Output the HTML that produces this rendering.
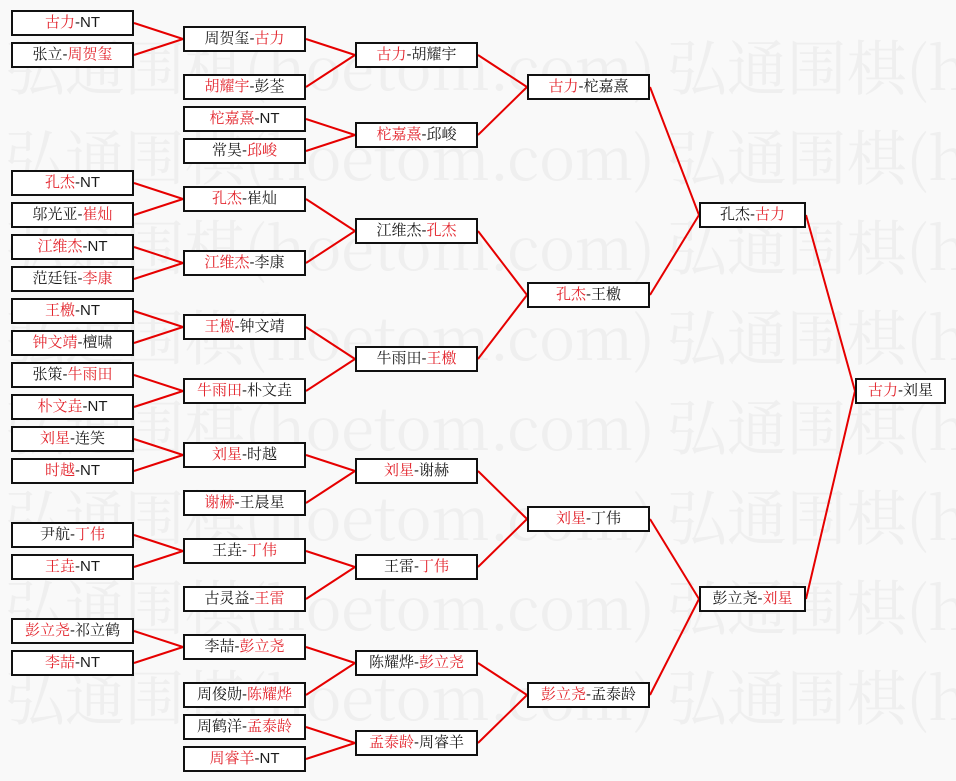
<!DOCTYPE html>
<html>
<head>
<meta charset="utf-8">
<style>
html{margin:0;padding:0;width:956px;height:781px;overflow:hidden;}
body{margin:0;padding:0;width:956px;height:781px;position:relative;overflow:hidden;background:#f9f9f9;
font-family:"Liberation Sans","Noto Serif CJK SC",serif;}
svg{position:absolute;left:0;top:0;display:block;}
.b{position:absolute;box-sizing:border-box;height:26px;border:2px solid #111;background:#fff;
text-align:center;line-height:22px;font-size:15px;color:#1a1a1a;white-space:nowrap;overflow:hidden;
font-family:"Liberation Sans","Noto Serif CJK SC",serif;}
.r{color:#e3262e;}
.c1{left:11px;width:123px;}
.c2{left:183px;width:123px;}
.c3{left:355px;width:123px;}
.c4{left:527px;width:123px;}
.c5{left:699px;width:107px;}
.c6{left:855px;width:91px;}
</style>
</head>
<body>
<svg width="956" height="781" viewBox="0 0 956 781" overflow="hidden">
<g fill="#efefef" font-family="Noto Serif CJK SC, serif" font-size="60">
<text x="5" y="90" textLength="650" lengthAdjust="spacing">弘通围棋(hoetom.com)</text><text x="667" y="90" textLength="650" lengthAdjust="spacing">弘通围棋(hoetom.com)</text>
<text x="5" y="180" textLength="650" lengthAdjust="spacing">弘通围棋(hoetom.com)</text><text x="667" y="180" textLength="650" lengthAdjust="spacing">弘通围棋(hoetom.com)</text>
<text x="5" y="270" textLength="650" lengthAdjust="spacing">弘通围棋(hoetom.com)</text><text x="667" y="270" textLength="650" lengthAdjust="spacing">弘通围棋(hoetom.com)</text>
<text x="5" y="360" textLength="650" lengthAdjust="spacing">弘通围棋(hoetom.com)</text><text x="667" y="360" textLength="650" lengthAdjust="spacing">弘通围棋(hoetom.com)</text>
<text x="5" y="450" textLength="650" lengthAdjust="spacing">弘通围棋(hoetom.com)</text><text x="667" y="450" textLength="650" lengthAdjust="spacing">弘通围棋(hoetom.com)</text>
<text x="5" y="540" textLength="650" lengthAdjust="spacing">弘通围棋(hoetom.com)</text><text x="667" y="540" textLength="650" lengthAdjust="spacing">弘通围棋(hoetom.com)</text>
<text x="5" y="630" textLength="650" lengthAdjust="spacing">弘通围棋(hoetom.com)</text><text x="667" y="630" textLength="650" lengthAdjust="spacing">弘通围棋(hoetom.com)</text>
<text x="5" y="720" textLength="650" lengthAdjust="spacing">弘通围棋(hoetom.com)</text><text x="667" y="720" textLength="650" lengthAdjust="spacing">弘通围棋(hoetom.com)</text>
</g>
<g stroke="#e60000" stroke-width="2" fill="none">
<path d="M134 23L183 39M134 55L183 39
M134 183L183 199M134 215L183 199
M134 247L183 263M134 279L183 263
M134 311L183 327M134 343L183 327
M134 375L183 391M134 407L183 391
M134 439L183 455M134 471L183 455
M134 535L183 551M134 567L183 551
M134 631L183 647M134 663L183 647
M306 39L355 55M306 87L355 55
M306 119L355 135M306 151L355 135
M306 199L355 231M306 263L355 231
M306 327L355 359M306 391L355 359
M306 455L355 471M306 503L355 471
M306 551L355 567M306 599L355 567
M306 647L355 663M306 695L355 663
M306 727L355 743M306 759L355 743
M478 55L527 87M478 135L527 87
M478 231L527 295M478 359L527 295
M478 471L527 519M478 567L527 519
M478 663L527 695M478 743L527 695
M650 87L699 215M650 295L699 215
M650 519L699 599M650 695L699 599
M806 215L855 391M806 599L855 391"/>
</g>
</svg>

<!-- Column 1 -->
<div class="b c1" style="top:10px"><span class="r">古力</span>-NT</div>
<div class="b c1" style="top:42px">张立-<span class="r">周贺玺</span></div>
<div class="b c1" style="top:170px"><span class="r">孔杰</span>-NT</div>
<div class="b c1" style="top:202px">邬光亚-<span class="r">崔灿</span></div>
<div class="b c1" style="top:234px"><span class="r">江维杰</span>-NT</div>
<div class="b c1" style="top:266px">范廷钰-<span class="r">李康</span></div>
<div class="b c1" style="top:298px"><span class="r">王檄</span>-NT</div>
<div class="b c1" style="top:330px"><span class="r">钟文靖</span>-檀啸</div>
<div class="b c1" style="top:362px">张策-<span class="r">牛雨田</span></div>
<div class="b c1" style="top:394px"><span class="r">朴文垚</span>-NT</div>
<div class="b c1" style="top:426px"><span class="r">刘星</span>-连笑</div>
<div class="b c1" style="top:458px"><span class="r">时越</span>-NT</div>
<div class="b c1" style="top:522px">尹航-<span class="r">丁伟</span></div>
<div class="b c1" style="top:554px"><span class="r">王垚</span>-NT</div>
<div class="b c1" style="top:618px"><span class="r">彭立尧</span>-祁立鹤</div>
<div class="b c1" style="top:650px"><span class="r">李喆</span>-NT</div>

<!-- Column 2 -->
<div class="b c2" style="top:26px">周贺玺-<span class="r">古力</span></div>
<div class="b c2" style="top:74px"><span class="r">胡耀宇</span>-彭荃</div>
<div class="b c2" style="top:106px"><span class="r">柁嘉熹</span>-NT</div>
<div class="b c2" style="top:138px">常昊-<span class="r">邱峻</span></div>
<div class="b c2" style="top:186px"><span class="r">孔杰</span>-崔灿</div>
<div class="b c2" style="top:250px"><span class="r">江维杰</span>-李康</div>
<div class="b c2" style="top:314px"><span class="r">王檄</span>-钟文靖</div>
<div class="b c2" style="top:378px"><span class="r">牛雨田</span>-朴文垚</div>
<div class="b c2" style="top:442px"><span class="r">刘星</span>-时越</div>
<div class="b c2" style="top:490px"><span class="r">谢赫</span>-王晨星</div>
<div class="b c2" style="top:538px">王垚-<span class="r">丁伟</span></div>
<div class="b c2" style="top:586px">古灵益-<span class="r">王雷</span></div>
<div class="b c2" style="top:634px">李喆-<span class="r">彭立尧</span></div>
<div class="b c2" style="top:682px">周俊勋-<span class="r">陈耀烨</span></div>
<div class="b c2" style="top:714px">周鹤洋-<span class="r">孟泰龄</span></div>
<div class="b c2" style="top:746px"><span class="r">周睿羊</span>-NT</div>

<!-- Column 3 -->
<div class="b c3" style="top:42px"><span class="r">古力</span>-胡耀宇</div>
<div class="b c3" style="top:122px"><span class="r">柁嘉熹</span>-邱峻</div>
<div class="b c3" style="top:218px">江维杰-<span class="r">孔杰</span></div>
<div class="b c3" style="top:346px">牛雨田-<span class="r">王檄</span></div>
<div class="b c3" style="top:458px"><span class="r">刘星</span>-谢赫</div>
<div class="b c3" style="top:554px">王雷-<span class="r">丁伟</span></div>
<div class="b c3" style="top:650px">陈耀烨-<span class="r">彭立尧</span></div>
<div class="b c3" style="top:730px"><span class="r">孟泰龄</span>-周睿羊</div>

<!-- Column 4 -->
<div class="b c4" style="top:74px"><span class="r">古力</span>-柁嘉熹</div>
<div class="b c4" style="top:282px"><span class="r">孔杰</span>-王檄</div>
<div class="b c4" style="top:506px"><span class="r">刘星</span>-丁伟</div>
<div class="b c4" style="top:682px"><span class="r">彭立尧</span>-孟泰龄</div>

<!-- Column 5 -->
<div class="b c5" style="top:202px">孔杰-<span class="r">古力</span></div>
<div class="b c5" style="top:586px">彭立尧-<span class="r">刘星</span></div>

<!-- Final -->
<div class="b c6" style="top:378px"><span class="r">古力</span>-刘星</div>
</body>
</html>
